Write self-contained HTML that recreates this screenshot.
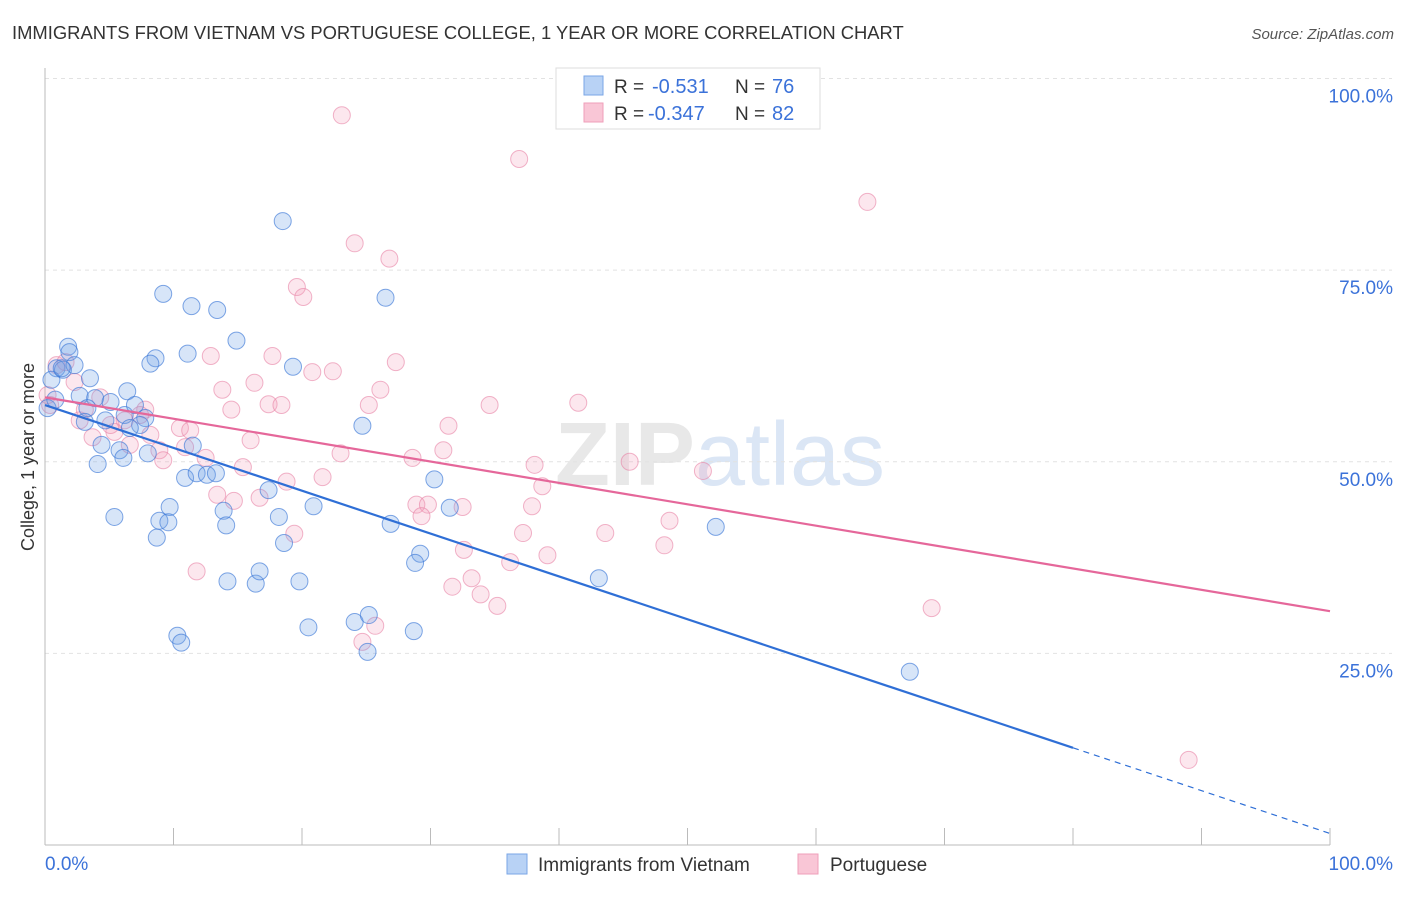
<!DOCTYPE html>
<html><head><meta charset="utf-8"><style>
body{margin:0;background:#fff;font-family:"Liberation Sans",sans-serif}
svg text{font-family:"Liberation Sans",sans-serif}
</style></head><body>
<svg id="c" width="1406" height="892" xmlns="http://www.w3.org/2000/svg">
<text x="12" y="39" font-size="18.4" fill="#333">IMMIGRANTS FROM VIETNAM VS PORTUGUESE COLLEGE, 1 YEAR OR MORE CORRELATION CHART</text>
<text x="1394" y="39" font-size="15" fill="#555" font-style="italic" text-anchor="end">Source: ZipAtlas.com</text>
<text x="720" y="485" font-size="90" fill="#e8e8e8" text-anchor="middle" font-weight="bold">ZIP<tspan fill="#dbe6f5" font-weight="normal">atlas</tspan></text>
<g id="grid"></g><g id="marks"></g>
<text transform="translate(34,457) rotate(-90)" font-size="18" fill="#333" text-anchor="middle">College, 1 year or more</text>
<g>
<rect x="556" y="68" width="264" height="61" fill="#fff" stroke="#ddd"/>
<rect x="584" y="76" width="19" height="19" fill="#b8d2f5" stroke="#7aa6e6"/>
<rect x="584" y="103" width="19" height="19" fill="#f9c6d6" stroke="#ef9fba"/>
<text x="614" y="93" font-size="19" fill="#333">R =</text>
<text x="652" y="93" font-size="20" fill="#3b72d9">-0.531</text>
<text x="735" y="93" font-size="19" fill="#333">N =</text>
<text x="772" y="93" font-size="20" fill="#3b72d9">76</text>
<text x="614" y="120" font-size="19" fill="#333">R =</text>
<text x="648" y="120" font-size="20" fill="#3b72d9">-0.347</text>
<text x="735" y="120" font-size="19" fill="#333">N =</text>
<text x="772" y="120" font-size="20" fill="#3b72d9">82</text>
</g>
<g>
<rect x="507" y="854" width="20" height="20" fill="#b8d2f5" stroke="#7aa6e6"/>
<text x="538" y="871" font-size="19" fill="#333">Immigrants from Vietnam</text>
<rect x="798" y="854" width="20" height="20" fill="#f9c6d6" stroke="#ef9fba"/>
<text x="830" y="871" font-size="19" fill="#333">Portuguese</text>
</g>
</svg>
<script>
const yTicks=[25,50,75,100];
const yTickLabels=["25.0%","50.0%","75.0%","100.0%"];
const xEndLabels=["0.0%","100.0%"];
const blueX=[18.5,9.2,11.4,13.4,26.5,14.9,1.8,1.9,8.6,11.1,8.2,0.9,1.4,2.3,19.3,3.5,0.5,6.4,2.7,3.9,5.1,4.7,6.2,7.0,7.8,7.4,6.6,3.3,3.1,4.4,5.8,6.1,8.0,11.5,4.1,24.7,30.3,10.9,11.8,12.6,13.3,17.4,20.9,9.7,13.9,5.4,8.9,9.6,14.1,18.2,26.9,31.5,52.2,8.7,18.6,29.2,28.8,43.1,14.2,16.4,16.7,19.8,24.1,25.2,20.5,28.7,10.3,10.6,25.1,67.3,0.2,0.8,1.3];
const blueY=[81.4,71.9,70.3,69.8,71.4,65.8,65.0,64.3,63.5,64.1,62.8,62.2,62.0,62.6,62.4,60.9,60.7,59.2,58.6,58.3,57.8,55.4,56.1,57.4,55.7,54.8,54.4,57.0,55.2,52.2,51.5,50.5,51.1,52.1,49.7,54.7,47.7,47.9,48.5,48.3,48.5,46.3,44.2,44.1,43.6,42.8,42.3,42.1,41.7,42.8,41.9,44.0,41.5,40.1,39.4,38.0,36.8,34.8,34.4,34.1,35.7,34.4,29.1,30.0,28.4,27.9,27.3,26.4,25.2,22.6,57.0,58.1,62.2];
const pinkX=[23.1,36.9,64.0,24.1,26.8,19.6,20.1,12.9,17.7,27.3,22.4,20.8,0.9,1.6,2.3,16.3,13.8,26.1,17.4,18.4,14.5,25.2,34.6,41.5,4.3,7.8,2.7,6.2,31.4,10.5,11.3,16.0,8.2,3.7,5.4,5.1,6.6,10.9,8.9,12.5,23.0,31.0,28.6,15.4,38.1,45.5,51.2,9.2,21.6,18.8,38.7,13.4,14.7,16.7,28.9,29.8,29.3,32.5,37.9,48.6,19.4,37.2,43.6,48.2,32.6,39.1,36.2,11.8,33.2,31.7,33.9,35.2,69.0,25.7,24.7,89.0,0.4,0.2,7.4,3.1];
const pinkY=[95.2,89.5,83.9,78.5,76.5,72.8,71.5,63.8,63.8,63.0,61.8,61.7,62.6,63.0,60.4,60.3,59.4,59.4,57.5,57.4,56.8,57.4,57.4,57.7,58.4,56.8,55.4,55.4,54.7,54.4,54.1,52.8,53.5,53.2,53.9,54.8,52.2,51.9,51.5,50.5,51.1,51.5,50.5,49.3,49.6,50.0,48.8,50.2,48.0,47.4,46.8,45.7,44.9,45.3,44.4,44.4,42.9,44.1,44.2,42.3,40.6,40.7,40.7,39.1,38.5,37.8,36.9,35.7,34.8,33.7,32.7,31.2,30.9,28.6,26.5,11.1,57.4,58.7,56.1,56.8];
const blueTrend=[57.4,1.5];
const pinkTrend=[58.4,30.5];
const blueSolidEnd=80;
const NS="http://www.w3.org/2000/svg";
const X=v=>45+v*12.85, Y=v=>845-v*7.665;
function mk(tag,attrs,parent){const e=document.createElementNS(NS,tag);for(const k in attrs)e.setAttribute(k,attrs[k]);parent.appendChild(e);return e;}
const g=document.getElementById('grid'),m=document.getElementById('marks');
yTicks.forEach((t,i)=>{
 const l=mk('line',{x1:45,x2:1392,y1:Y(t),y2:Y(t),stroke:'#e2e2e2','stroke-dasharray':'4,4'},g);
 
 
 const tx=mk('text',{x:1393,y:Y(t)+24,'font-size':19,fill:'#3b72d9','text-anchor':'end'},g);
 tx.textContent=yTickLabels[i];
 
 
});
const ax=mk('line',{x1:45,x2:1330,y1:845,y2:845,stroke:'#bbb'},g);


const ay=mk('line',{x1:45,x2:45,y1:68,y2:845,stroke:'#bbb'},g);


for(let i=1;i<=10;i++){const t=mk('line',{x1:X(i*10),x2:X(i*10),y1:828,y2:845,stroke:'#bbb'},g);
 
 }
[[0,'start',45],[100,'end',1393]].forEach((d,i)=>{const t=mk('text',{x:d[2],y:870,'font-size':19,fill:'#3b72d9','text-anchor':d[1]},g);t.textContent=xEndLabels[i];
 
 });
function pts(xs,ys,fill,stroke,name){xs.forEach((x,i)=>{const c=mk('circle',{cx:X(x),cy:Y(ys[i]),r:8.5,fill:fill,stroke:stroke,'stroke-width':1},m);
 
 });}
pts(pinkX,pinkY,'rgba(244,160,188,0.25)','rgba(232,130,165,0.6)','portuguese-point');
pts(blueX,blueY,'rgba(110,160,230,0.28)','rgba(60,120,215,0.65)','vietnam-point');
const by=x=>blueTrend[0]+(blueTrend[1]-blueTrend[0])*x/100;
const l1=mk('line',{x1:X(0),y1:Y(by(0)),x2:X(blueSolidEnd),y2:Y(by(blueSolidEnd)),stroke:'#2f6fd6','stroke-width':2.2},m);


const l2=mk('line',{x1:X(blueSolidEnd),y1:Y(by(blueSolidEnd)),x2:X(100),y2:Y(by(100)),stroke:'#2f6fd6','stroke-width':1.2,'stroke-dasharray':'6,5'},m);


const l3=mk('line',{x1:X(0),y1:Y(pinkTrend[0]),x2:X(100),y2:Y(pinkTrend[1]),stroke:'#e5679a','stroke-width':2.2},m);


</script>
</body></html>
